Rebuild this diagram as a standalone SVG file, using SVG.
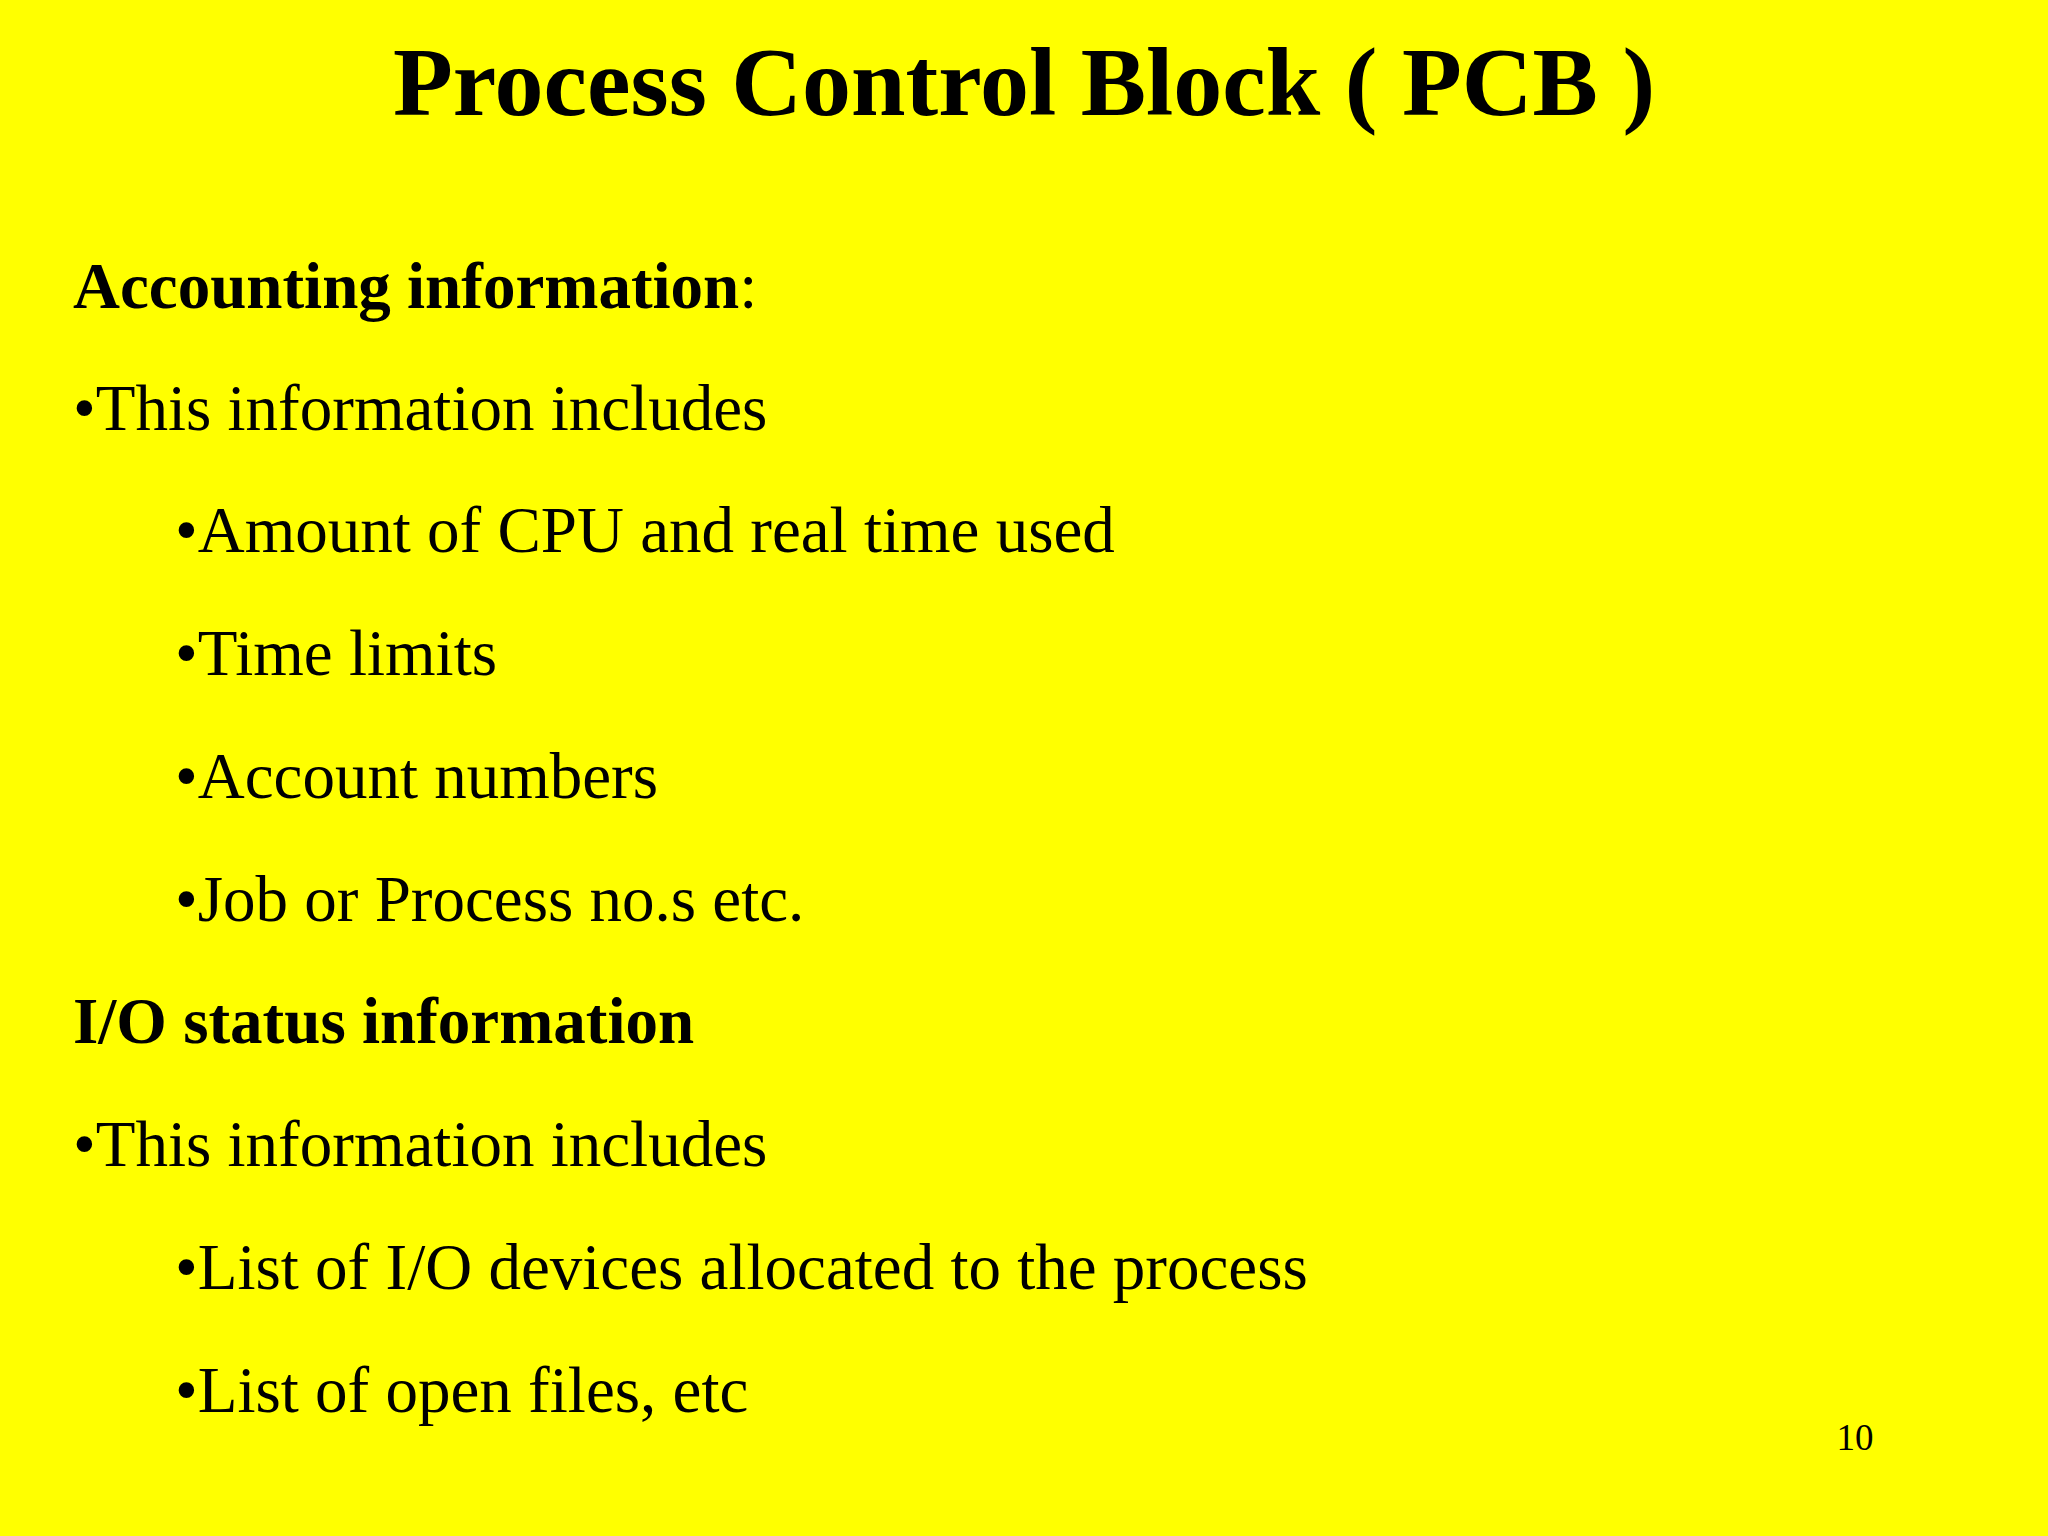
<svg xmlns="http://www.w3.org/2000/svg" width="2048" height="1536" viewBox="0 0 2048 1536">
<style>
text{font-family:"Liberation Serif","Times New Roman",serif;fill:#000}
.b{font-size:65px}
.h{font-size:65px;font-weight:bold}
</style>
<rect width="2048" height="1536" fill="#ffff00"/>
<text x="1024" y="115" font-size="98" font-weight="bold" text-anchor="middle">Process Control Block ( PCB )</text>
<text class="h" x="73" y="308">Accounting information<tspan font-weight="normal">:</tspan></text>
<text class="b" x="73" y="430">•This information includes</text>
<text class="b" x="175" y="552">•Amount of CPU and real time used</text>
<text class="b" x="175" y="675">•Time limits</text>
<text class="b" x="175" y="798">•Account numbers</text>
<text class="b" x="175" y="921">•Job or Process no.s etc.</text>
<text class="h" x="73" y="1043">I/O status information</text>
<text class="b" x="73" y="1166">•This information includes</text>
<text class="b" x="175" y="1289">•List of I/O devices allocated to the process</text>
<text class="b" x="175" y="1412">•List of open files, etc</text>
<text x="1855" y="1450" font-size="37" text-anchor="middle">10</text>
</svg>
